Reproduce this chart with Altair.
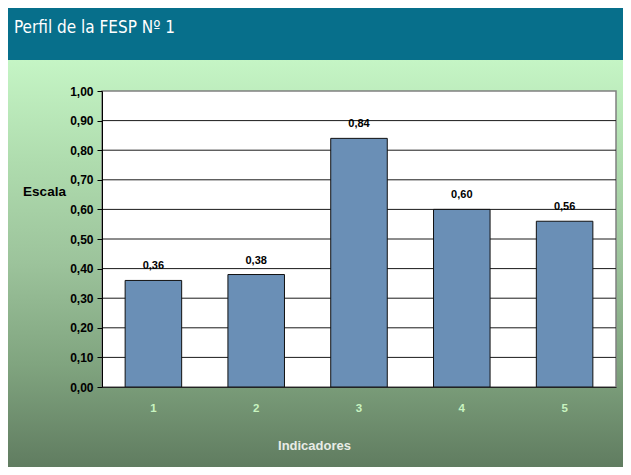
import altair as alt
import pandas as pd

# ---- data ----
indicadores = ["1", "2", "3", "4", "5"]
valores = [0.36, 0.38, 0.84, 0.60, 0.56]
grid_values = [0.1, 0.2, 0.3, 0.4, 0.5, 0.6, 0.7, 0.8, 0.9]
y_ticks = [0.0, 0.1, 0.2, 0.3, 0.4, 0.5, 0.6, 0.7, 0.8, 0.9, 1.0]
titulo = "Perfil de la FESP Nº 1"

W, H = 514, 296
PAD_L, PAD_T, PAD_R, PAD_B = 94, 83, 7, 80

df = pd.DataFrame({"ind": indicadores, "v": valores})
one = pd.DataFrame({"a": [0]})
grid_df = pd.DataFrame({"v": grid_values})

FONT = "Liberation Sans"

xscale = alt.Scale(domain=indicadores, paddingInner=0.45, paddingOuter=0.225)
yscale = alt.Scale(domain=[0, 1], nice=False)

yaxis = alt.Axis(title="Escala", values=y_ticks, grid=False,
                 labelExpr="replace(format(datum.value, '.2f'), '.', ',')",
                 labelColor="black", labelFont=FONT, labelFontWeight="bold",
                 labelFontSize=12, labelPadding=4,
                 tickColor="black", tickSize=5, domainColor="black",
                 titleAngle=0, titleX=-58, titleY=100,
                 titleAlign="center", titleBaseline="middle",
                 titleColor="black", titleFont=FONT, titleFontWeight="bold",
                 titleFontSize=13.5, zindex=1)

gradient = alt.LinearGradient(
    gradient="linear",
    stops=[
        alt.GradientStop(offset=0.0, color="#c5f5c5"),
        alt.GradientStop(offset=0.25, color="#afdcae"),
        alt.GradientStop(offset=0.5, color="#9cc39b"),
        alt.GradientStop(offset=0.75, color="#80a47f"),
        alt.GradientStop(offset=1.0, color="#607c60"),
    ],
    x1=0, x2=0, y1=0, y2=1,
)

bg = alt.Chart(one).mark_rect(fill=gradient).encode(
    x=alt.value(-PAD_L), x2=alt.value(W + PAD_R),
    y=alt.value(-31), y2=alt.value(H + PAD_B),
)
header = alt.Chart(one).mark_rect(fill="#076f8b").encode(
    x=alt.value(-PAD_L), x2=alt.value(W + PAD_R),
    y=alt.value(-PAD_T), y2=alt.value(-31),
)
header_text = alt.Chart(one).mark_text(
    text=titulo, align="left", baseline="alphabetic",
    font="Liberation Sans Narrow, DejaVu Sans Condensed, Roboto, sans-serif",
    fontSize=17, color="white",
).encode(x=alt.value(-88), y=alt.value(-58))

plot_bg = alt.Chart(one).mark_rect(fill="white", stroke="#808080", strokeWidth=1.5).encode(
    x=alt.value(0), x2=alt.value(W), y=alt.value(0), y2=alt.value(H),
)

grid = alt.Chart(grid_df).mark_rule(color="#1a1a1a", strokeWidth=1).encode(
    y=alt.Y("v:Q", scale=yscale, axis=yaxis),
)

bars = alt.Chart(df).mark_bar(color="#6a8fb6", stroke="#111111", strokeWidth=1).encode(
    x=alt.X("ind:N", scale=xscale, sort=indicadores,
            axis=alt.Axis(title="Indicadores", labelAngle=0, ticks=False,
                          domain=True, domainColor="#222222",
                          labelColor="#c8f4c0", labelFont=FONT, labelFontWeight="bold",
                          labelFontSize=11.5, labelPadding=15,
                          titleColor="#e8ece6", titleFont=FONT, titleFontWeight="bold",
                          titleFontSize=13, titleX=212, titleY=58,
                          titleAlign="center", titleBaseline="middle",
                          zindex=1)),
    y=alt.Y("v:Q", scale=yscale, axis=yaxis),
)

labels = alt.Chart(df).transform_calculate(
    lab="replace(format(datum.v, '.2f'), '.', ',')"
).mark_text(baseline="middle", dy=-14, font=FONT, fontWeight="bold",
            fontSize=11, color="black").encode(
    x=alt.X("ind:N", scale=xscale, sort=indicadores),
    y=alt.Y("v:Q", scale=yscale, axis=yaxis),
    text="lab:N",
)

chart = alt.layer(bg, header, header_text, plot_bg, grid, bars, labels).properties(
    width=W, height=H,
    autosize=alt.AutoSizeParams(type="none"),
    padding={"left": PAD_L, "top": PAD_T, "right": PAD_R, "bottom": PAD_B},
).configure_view(stroke=None)

chart.save("out.html", embed_options={"renderer": "svg", "actions": False})
